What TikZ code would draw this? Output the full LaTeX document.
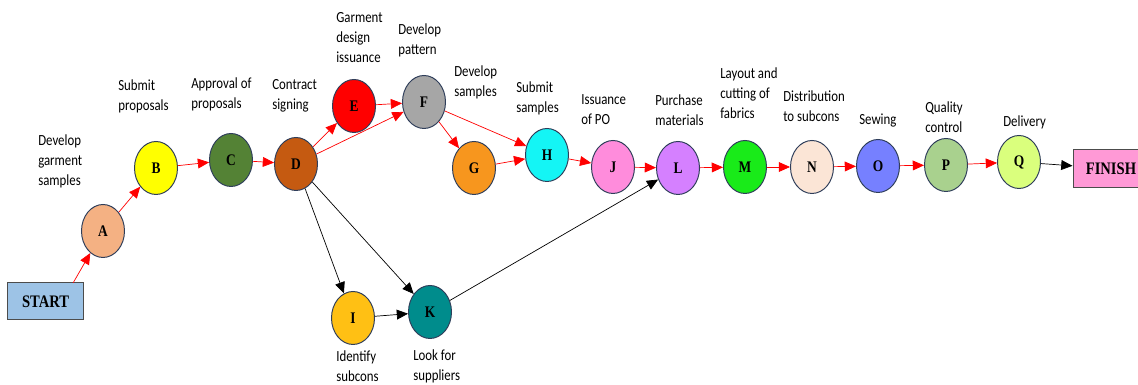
\documentclass[tikz,border=0pt]{standalone}
\usepackage{fontspec}
\setmainfont[FakeStretch=0.83]{Liberation Serif}
\newfontfamily\lblfont[FakeStretch=0.83]{Carlito}
\usetikzlibrary{shapes.geometric}
\usetikzlibrary{arrows.meta}
\definecolor{rim}{RGB}{47,62,90}
\definecolor{cstart}{RGB}{157,195,230}
\definecolor{cfinish}{RGB}{255,153,214}
\definecolor{cA}{RGB}{244,177,131}
\definecolor{cB}{RGB}{255,255,0}
\definecolor{cC}{RGB}{84,130,53}
\definecolor{cD}{RGB}{197,90,17}
\definecolor{cE}{RGB}{255,0,0}
\definecolor{cF}{RGB}{166,166,166}
\definecolor{cG}{RGB}{247,150,30}
\definecolor{cH}{RGB}{20,245,245}
\definecolor{cI}{RGB}{255,192,20}
\definecolor{cJ}{RGB}{255,140,220}
\definecolor{cK}{RGB}{0,140,140}
\definecolor{cL}{RGB}{213,128,255}
\definecolor{cM}{RGB}{25,235,25}
\definecolor{cN}{RGB}{251,229,214}
\definecolor{cO}{RGB}{118,128,255}
\definecolor{cP}{RGB}{169,209,142}
\definecolor{cQ}{RGB}{218,255,125}
\tikzset{
    mynode/.style = {ellipse, draw=rim, line width=0.7pt, minimum width=1.075cm, minimum height=1.325cm, inner sep=0pt, font=\bfseries\fontsize{11.5}{11.5}\selectfont},
    mybox/.style = {rectangle, draw=black!70, line width=0.7pt, minimum width=1.9cm, minimum height=0.93cm, font=\bfseries\fontsize{12.5}{12.5}\selectfont},
    mylabel/.style = {anchor=west, align=left, inner sep=0pt, font=\lblfont\fontsize{11}{14.2}\selectfont},
    edger/.style = {-{Triangle[length=8pt,width=7pt]}, red, line width=0.5pt},
    edgen/.style = {-{Triangle[length=8pt,width=7pt]}, black, line width=0.5pt}
}

\begin{document}
\begin{tikzpicture}
\useasboundingbox (0,0) rectangle (28.45,9.625);
\node[mybox, fill=cstart] at (1.14, 2.09) (start) {START};
\node[mybox, fill=cfinish] at (27.775, 5.41) (finish) {FINISH};
\coordinate (s0) at (1.83, 2.555);
%
\node[mynode, fill=cA] at (2.575, 3.85) (a) {A};
\node[mynode, fill=cB] at (3.90, 5.425) (b) {B};
\node[mynode, fill=cC] at (5.775, 5.625) (c) {C};
\node[mynode, fill=cD] at (7.40, 5.525) (d) {D};
\node[mynode, fill=cE] at (8.85, 6.975) (e) {E};
\node[mynode, fill=cF] at (10.60, 7.075) (f) {F};
\node[mynode, fill=cG] at (11.85, 5.425) (g) {G};
\node[mynode, fill=cH] at (13.675, 5.75) (h) {H};
\node[mynode, fill=cJ] at (15.325, 5.45) (j) {J};
\node[mynode, fill=cL] at (16.95, 5.425) (l) {L};
\node[mynode, fill=cM] at (18.625, 5.45) (m) {M};
\node[mynode, fill=cN] at (20.30, 5.45) (n) {N};
\node[mynode, fill=cO] at (21.95, 5.475) (o) {O};
\node[mynode, fill=cP] at (23.65, 5.50) (p) {P};
\node[mynode, fill=cQ] at (25.475, 5.575) (q) {Q};
\node[mynode, fill=cI] at (8.825, 1.675) (i) {I};
\node[mynode, fill=cK] at (10.75, 1.825) (k) {K};
%
\node[mylabel] at (0.95, 5.60) (la) {Develop\\garment\\samples};
\node[mylabel] at (2.95, 7.225) (lb) {Submit\\proposals};
\node[mylabel] at (4.775, 7.275) (lc) {Approval of\\proposals};
\node[mylabel] at (6.80, 7.225) (ld) {Contract\\signing};
\node[mylabel] at (8.40, 8.675) (le) {Garment\\design\\issuance};
\node[mylabel] at (9.95, 8.625) (lf) {Develop\\pattern};
\node[mylabel] at (11.35, 7.575) (lg) {Develop\\samples};
\node[mylabel] at (12.90, 7.175) (lh) {Submit\\samples};
\node[mylabel] at (14.525, 6.875) (lj) {Issuance\\of PO};
\node[mylabel] at (16.375, 6.875) (ll) {Purchase\\materials};
\node[mylabel] at (18.0, 7.30) (lm) {Layout and\\cutting of\\fabrics};
\node[mylabel] at (19.575, 6.975) (ln) {Distribution\\to subcons};
\node[mylabel] at (21.475, 6.60) (lo) {Sewing};
\node[mylabel] at (23.125, 6.70) (lp) {Quality\\control};
\node[mylabel] at (25.075, 6.575) (lq) {Delivery};
\node[mylabel] at (8.40, 0.46) (li) {Identify\\subcons};
\node[mylabel] at (10.325, 0.46) (lk) {Look for\\suppliers};
%
\draw[edger] (s0) -- (a);
\draw[edger] (a) -- (b);
\draw[edger] (b) -- (c);
\draw[edger] (c) -- (d);
\draw[edger] (d) -- (e);
\draw[edger] (d) -- (f);
\draw[edger] (e) -- (f);
\draw[edger] (f) -- (g);
\draw[edger] (f) -- (h);
\draw[edger] (g) -- (h);
\draw[edger] (h) -- (j);
\draw[edger] (j) -- (l);
\draw[edger] (l) -- (m);
\draw[edger] (m) -- (n);
\draw[edger] (n) -- (o);
\draw[edger] (o) -- (p);
\draw[edger] (p) -- (q);
\draw[edgen] (q) -- (finish);
\draw[edgen] (d) -- (i);
\draw[edgen] (d) -- (k);
\draw[edgen] (i) -- (k);
\draw[edgen] (k) -- (l);
\end{tikzpicture}
\end{document}
